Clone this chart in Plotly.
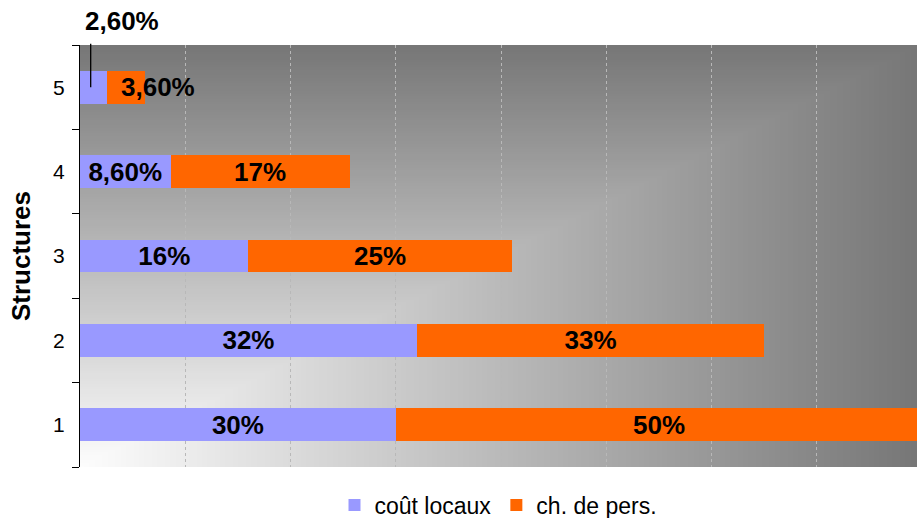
import base64
import struct
import zlib

import plotly.graph_objects as go

# ---- data ----
structures = ["1", "2", "3", "4", "5"]
cout_locaux = [30, 32, 16, 8.6, 2.6]
ch_de_pers = [50, 33, 25, 17, 3.6]
cout_labels = ["30%", "32%", "16%", "8,60%", ""]
pers_labels = ["50%", "33%", "25%", "17%", ""]
small_cout_label = "2,60%"
small_pers_label = "3,60%"
x_ticks = [0, 10, 20, 30, 40, 50, 60, 70, 80]

BLUE = "#9999FF"
ORANGE = "#FF6600"
FONT = "Arial, 'Liberation Sans', sans-serif"
LABEL_FONT = dict(family=FONT, size=26, color="black", weight="bold")


# ---- gradient background (corner gradient, white at bottom-left) ----
def gradient_png(w=320, h=160):
    raw = bytearray()
    for j in range(h):
        v = (h - 1 - j) / (h - 1)
        raw.append(0)
        for i in range(w):
            u = i / (w - 1)
            m = max(u, v)
            g = int(round(253 - (253 - 119) * m))
            raw.append(g)

    def chunk(t, d):
        return struct.pack(">I", len(d)) + t + d + struct.pack(">I", zlib.crc32(t + d) & 0xFFFFFFFF)

    png = b"\x89PNG\r\n\x1a\n"
    png += chunk(b"IHDR", struct.pack(">IIBBBBB", w, h, 8, 0, 0, 0, 0))
    png += chunk(b"IDAT", zlib.compress(bytes(raw), 9))
    png += chunk(b"IEND", b"")
    return "data:image/png;base64," + base64.b64encode(png).decode()


fig = go.Figure()
fig.add_trace(go.Bar(
    name="coût locaux", y=structures, x=cout_locaux, orientation="h",
    marker=dict(color=BLUE, line=dict(width=0)),
    text=cout_labels, textposition="inside", insidetextanchor="middle",
    textfont=LABEL_FONT, hoverinfo="x+y",
))
fig.add_trace(go.Bar(
    name="ch. de pers.", y=structures, x=ch_de_pers, orientation="h",
    marker=dict(color=ORANGE, line=dict(width=0)),
    text=pers_labels, textposition="inside", insidetextanchor="middle",
    textfont=LABEL_FONT, hoverinfo="x+y",
))

idx5 = structures.index("5")
# label for the small orange segment (structure 5)
fig.add_annotation(
    x=cout_locaux[idx5] + ch_de_pers[idx5], y=idx5, xref="x", yref="y",
    text=small_pers_label, showarrow=False, xanchor="center", xshift=13,
    font=LABEL_FONT,
)
# leader line + label for the small blue segment
fig.add_annotation(
    x=cout_locaux[idx5] / 2, y=idx5, xref="x", yref="y",
    text="", showarrow=True, arrowhead=0, arrowwidth=1.3, arrowcolor="black",
    ax=0, ay=-45, xshift=-3,
)
fig.add_annotation(
    x=cout_locaux[idx5] / 2, y=idx5, xref="x", yref="y",
    text=small_cout_label, showarrow=False, xanchor="center", yanchor="middle",
    xshift=28, yshift=66, font=LABEL_FONT,
)

fig.add_layout_image(dict(
    source=gradient_png(), xref="paper", yref="paper", x=0, y=1,
    sizex=1, sizey=1, sizing="stretch", xanchor="left", yanchor="top",
    layer="below",
))

fig.update_layout(
    width=917, height=518,
    margin=dict(l=80, r=0, t=45, b=51, autoexpand=False),
    barmode="stack", bargap=0.61,
    paper_bgcolor="white", plot_bgcolor="rgba(0,0,0,0)",
    font=dict(family=FONT, color="black"),
    showlegend=True,
    legend=dict(orientation="h", x=0.5, xanchor="center", y=-0.09, yanchor="middle",
                font=dict(family=FONT, size=23, color="black"), traceorder="normal",
                itemwidth=30),
    uniformtext=dict(minsize=26, mode="show"),
)
fig.update_xaxes(
    range=[0, 79.5], tickvals=x_ticks, showticklabels=False, ticks="",
    showgrid=True, gridcolor="#b8b8b8", gridwidth=1, griddash="dot",
    zeroline=False, showline=False, fixedrange=True, automargin=False,
)
fig.update_yaxes(
    type="category", categoryorder="array", categoryarray=structures,
    range=[-0.5, len(structures) - 0.5],
    tickson="boundaries", ticks="outside", ticklen=7, tickcolor="black",
    showline=True, linecolor="black", linewidth=1.3,
    tickfont=dict(family=FONT, size=21, color="black"),
    ticklabelstandoff=10,
    showgrid=False, zeroline=False, automargin=False,
    title=dict(text="Structures", standoff=14,
               font=dict(family=FONT, size=26, color="black", weight="bold")),
    fixedrange=True,
)

fig.write_html(
    "out.html",
    config={"displayModeBar": False},
    post_script="document.body.style.margin='0px';document.body.style.overflow='hidden';",
)
